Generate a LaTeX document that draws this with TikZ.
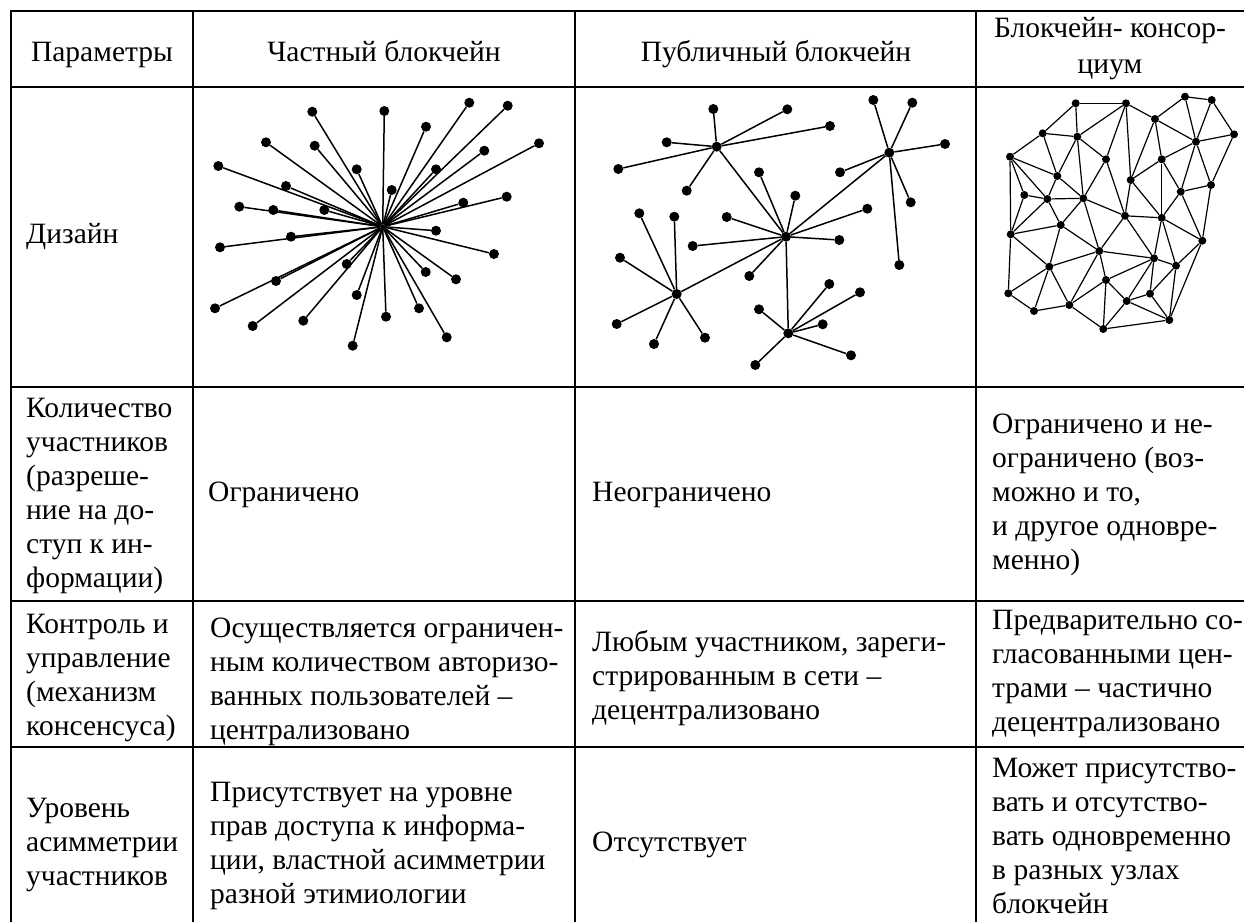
\documentclass[tikz,border=0pt]{standalone}
\usepackage{fontspec}
\setmainfont{Liberation Serif}
\begin{document}
\begin{tikzpicture}[x=1pt,y=-1pt,
  grid/.style={line width=2.5pt,line cap=rect},
  body/.style={anchor=west,inner sep=0pt,align=left,font=\fontsize{29.5}{34}\selectfont},
  head/.style={anchor=base,inner sep=0pt,align=center,font=\fontsize{29.5}{34}\selectfont},
  dot/.style={circle,fill=black,inner sep=0pt,minimum size=10pt},
  hub/.style={circle,fill=black,inner sep=0pt,minimum size=5pt},
  edge/.style={line width=1.5pt}]
\useasboundingbox (0,0) rectangle (1244,921);
% ---- table grid
\draw[grid] (11,11) -- (1250,11);
\foreach \yy in {87,387,601,747} \draw[grid] (11,\yy) -- (1250,\yy);
\foreach \xx in {11,193,575,976} \draw[grid] (\xx,11) -- (\xx,930);
% ---- header
\node[head] (h1) at (102,61) {Параметры};
\node[head] (h2) at (384,61) {Частный блокчейн};
\node[head] (h3) at (776,61) {Публичный блокчейн};
\node[head,anchor=center,font=\fontsize{29.5}{36}\selectfont] (h4) at (1110,49) {Блокчейн- консор-\\циум};
% ---- row 2
\node[body] (r2c1) at (26,237) {Дизайн};
% ---- row 3
\node[body] (r3c1) at (26,496) {Количество\\участников\\(разреше-\\ние на до-\\ступ к ин-\\формации)};
\node[body] (r3c2) at (208,495) {Ограничено};
\node[body] (r3c3) at (592,495) {Неограничено};
\node[body] (r3c4) at (992,495) {Ограничено и не-\\ограничено (воз-\\можно и то,\\и другое одновре-\\менно)};
% ---- row 4
\node[body] (r4c1) at (26,678) {Контроль и\\управление\\(механизм\\консенсуса)};
\node[body] (r4c2) at (210,682) {Осуществляется ограничен-\\ным количеством авторизо-\\ванных пользователей –\\централизовано};
\node[body] (r4c3) at (592,678) {Любым участником, зареги-\\стрированным в сети –\\децентрализовано};
\node[body] (r4c4) at (992,674) {Предварительно со-\\гласованными цен-\\трами – частично\\децентрализовано};
% ---- row 5
\node[body] (r5c1) at (26,845) {Уровень\\асимметрии\\участников};
\node[body] (r5c2) at (210,846) {Присутствует на уровне\\прав доступа к информа-\\ции, властной асимметрии\\разной этимиологии};
\node[body] (r5c3) at (592,845) {Отсутствует};
\node[body] (r5c4) at (992,836) {Может присутство-\\вать и отсутство-\\вать одновременно\\в разных узлах\\блокчейн};
% ---- graph 1: private (star)
\node[hub] (pc) at (382.7,226.7) {};
\foreach \n/\px/\py in {1/312.3/111.7,2/384.3/111,3/469.3/102.7,4/507.7/105.7,5/426/126.7,
  6/266/142.3,7/314.7/145.7,8/484.3/150.7,9/539/143.3,10/218.3/166,11/356.7/169.3,
  12/436/169.3,13/286/186,14/391.7/190,15/239.3/206.7,16/273.3/210,17/324.3/210,
  18/463.3/202.7,19/506.7/196.7,20/436/230.7,21/220/247.3,22/291/236.7,23/494/254,
  24/346.7/264,25/425.7/272,26/456/279.3,27/276/281,28/215/308.3,29/356.7/295,
  30/386/316.7,31/419/308.3,32/252.7/326,33/303.3/320.7,34/446.7/337.3,35/352.7/345.7}
{ \node[dot] (p\n) at (\px,\py) {}; \draw[edge] (pc) -- (p\n); }
% ---- graph 2: public (hubs)
\node[dot] (H1) at (716.7,146.7) {};
\node[dot] (H2) at (786,236.7) {};
\node[dot] (H3) at (889.3,152.7) {};
\node[dot] (H4) at (676.7,294) {};
\node[dot] (H5) at (788.3,333.3) {};
\draw[edge] (H1) -- (H2);
\draw[edge] (H2) -- (H3);
\draw[edge] (H2) -- (H4);
\draw[edge] (H2) -- (H5);
\foreach \h/\n/\px/\py in {
  H1/a1/713.3/109, H1/a2/787.3/109.3, H1/a3/830/126, H1/a4/666.7/142.3, H1/a5/618.3/169, H1/a6/686.7/190.7,
  H3/b1/873.3/100, H3/b2/912.3/102.7, H3/b3/945/144, H3/b4/840/172.3, H3/b5/910.7/202.3, H3/b6/899.3/265,
  H2/c1/759/172.3, H2/c2/795.3/195.7, H2/c3/867.3/208.7, H2/c4/726.7/217, H2/c5/839.3/240, H2/c6/692.7/246, H2/c7/749.3/276,
  H4/d1/639.3/213.3, H4/d2/674.3/216.7, H4/d3/620/257.7, H4/d4/616.7/324, H4/d5/654/344, H4/d6/705/337.7,
  H5/e1/759/309.3, H5/e2/829.3/284, H5/e3/860/292.3, H5/e4/822.7/324.3, H5/e5/851/355.3, H5/e6/755.3/365}
{ \node[dot] (\n) at (\px,\py) {}; \draw[edge] (\h) -- (\n); }
% ---- graph 3: consortium (mesh)
\begin{scope}[every node/.style={dot,minimum size=8pt}]
\node (a) at (1075.7,103.3) {};
\node (b) at (1126,103.3) {};
\node (c) at (1155,119) {};
\node (d) at (1185,96.7) {};
\node (e) at (1211.7,100) {};
\node (f) at (1234,134.3) {};
\node (g) at (1196,141.7) {};
\node (h) at (1042.7,133.3) {};
\node (i) at (1077.3,136.7) {};
\node (j) at (1010,156.7) {};
\node (k) at (1106,159.3) {};
\node (l) at (1161.7,159.3) {};
\node (m) at (1057.3,176) {};
\node (n) at (1130.7,180) {};
\node (o) at (1211,185) {};
\node (p) at (1180.7,191.7) {};
\node (q) at (1024.3,195) {};
\node (r) at (1047.3,199) {};
\node (s) at (1083.3,198.3) {};
\node (t) at (1125,215.8) {};
\node (u) at (1161.7,217.8) {};
\node (v) at (1060.7,225) {};
\node (w) at (1010.7,234.3) {};
\node (x) at (1202.3,240.7) {};
\node (y) at (1099.3,251) {};
\node (z) at (1154,258.3) {};
\node (A) at (1176,265.7) {};
\node (B) at (1049.3,266.7) {};
\node (C) at (1106,280) {};
\node (D) at (1008.3,293.3) {};
\node (E) at (1150,293.7) {};
\node (F) at (1126.7,301) {};
\node (G) at (1034,311) {};
\node (H) at (1069.3,305) {};
\node (I) at (1169.3,320) {};
\node (J) at (1103.3,329) {};
\end{scope}
\foreach \u/\v in {a/b,a/h,a/i,b/i,b/k,b/n,b/c,c/d,c/g,c/l,c/n,d/e,d/g,e/g,e/f,f/g,f/o,
  g/l,g/p,g/o,h/j,h/i,h/m,i/m,i/k,i/s,j/m,j/q,j/r,j/w,m/r,m/s,k/s,k/t,n/l,n/t,n/u,
  l/u,l/p,o/p,o/x,p/u,p/x,s/r,s/t,s/v,s/y,q/r,q/w,r/v,r/w,v/w,v/y,v/B,w/B,w/D,
  t/u,t/y,t/z,u/z,u/A,u/x,y/z,y/B,y/C,y/H,z/A,z/C,z/E,z/F,A/x,A/E,A/I,x/I,
  B/D,B/G,B/H,C/H,C/F,C/J,D/G,E/F,E/I,F/I,F/J,G/H,H/J,I/J}
{ \draw[edge,line width=1.2pt] (\u) -- (\v); }
\end{tikzpicture}
\end{document}
